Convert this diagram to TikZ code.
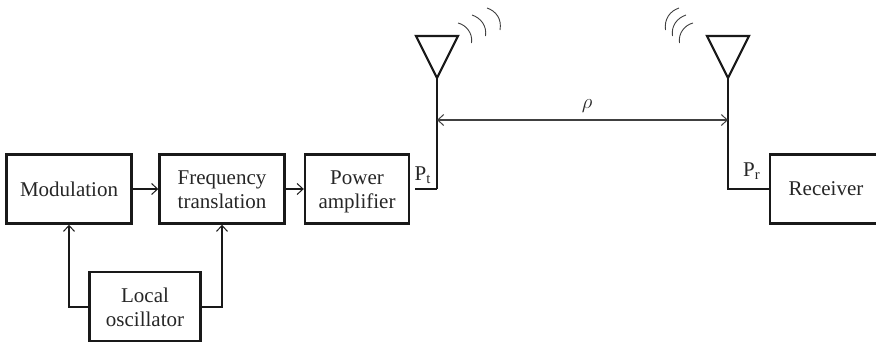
\documentclass[tikz,border=0pt]{standalone}
\usepackage{fontspec}
\setmainfont{Liberation Serif}
\usetikzlibrary{arrows.meta}
\newcommand{\topstrut}[1]{\rule{0pt}{#1pt}}
\newcommand{\botstrut}{\rule[-5pt]{0pt}{5pt}}
\begin{document}
\begin{tikzpicture}[x=1pt,y=-1pt,
  blockbox/.style={draw=black!90,line width=2.4pt,minimum width=#1,minimum height=69pt,inner sep=0pt,align=center,font=\fontsize{21}{24.5}\selectfont,text=black!85},
  wire/.style={draw=black!90,line width=1.4pt},
  flow/.style={wire,-{Straight Barb[length=6pt,width=11pt,line width=1pt]}},
  mast/.style={draw=black!90,line width=1.7pt},
  ant/.style={draw=black!90,line width=2.2pt,line join=miter},
  wave/.style={draw=black!75,line width=0.9pt},
  lab/.style={inner sep=0pt,font=\fontsize{21}{24}\selectfont,text=black!85}]
\useasboundingbox (0,0) rectangle (876,341);
\node[blockbox=125pt] (mod) at (69,189) {Modulation};
\node[blockbox=125pt] (freq) at (222,189) {\topstrut{20}Frequency\\translation\botstrut};
\node[blockbox=104pt] (pa) at (357,189) {\topstrut{20}Power\\amplifier\botstrut};
\node[blockbox=111pt] (lo) at (145,306.5) {\topstrut{21}Local\\oscillator\botstrut};
\node[blockbox=112pt] (rx) at (826,189) {Receiver};
\coordinate (a1) at (437,78);
\coordinate (a2) at (728,78);
\coordinate (b1) at (437,189);
\coordinate (b2) at (728,189);
\coordinate (s1) at (415,189);
\coordinate (m1) at (437,120);
\coordinate (m2) at (728,120);
\draw[ant] (416,36) -- (458,36) -- (a1) -- cycle;
\draw[ant] (707,36) -- (749,36) -- (a2) -- cycle;
\draw[mast] (a1) -- (b1);
\draw[wire] (b1) -- (s1);
\draw[wire] (a2) -- (b2) -- (rx.west);
\draw[flow] (mod) -- (freq);
\draw[flow] (freq) -- (pa);
\draw[flow] (lo.west |- 307,307) -- (69,307) -- (mod.south);
\draw[flow] (lo.east |- 307,307) -- (222,307) -- (freq.south);
\draw[wire,draw=black!75,{Straight Barb[length=6pt,width=11pt,line width=1pt]}-{Straight Barb[length=6pt,width=11pt,line width=1pt]}] (m1) -- (m2);
\node[lab] (rho) at (587,106) {$\rho$};
\node[lab,anchor=base west] (pt) at (414.5,180) {P\textsubscript{t}};
\node[lab,anchor=base west] (pr) at (743,176) {P\textsubscript{r}};
\draw[wave] (458,23) .. controls (466,25) and (473,33) .. (471.5,43);
\draw[wave] (472,15) .. controls (481,18) and (487,26) .. (485.5,36);
\draw[wave] (487,8) .. controls (496,11) and (502,19) .. (500,30);
\draw[wave] (693,23) .. controls (685,25) and (678,33) .. (679.5,43);
\draw[wave] (686,15) .. controls (677,18) and (671,26) .. (672.5,36);
\draw[wave] (679,8) .. controls (670,11) and (664,19) .. (665.5,30);
\end{tikzpicture}
\end{document}
